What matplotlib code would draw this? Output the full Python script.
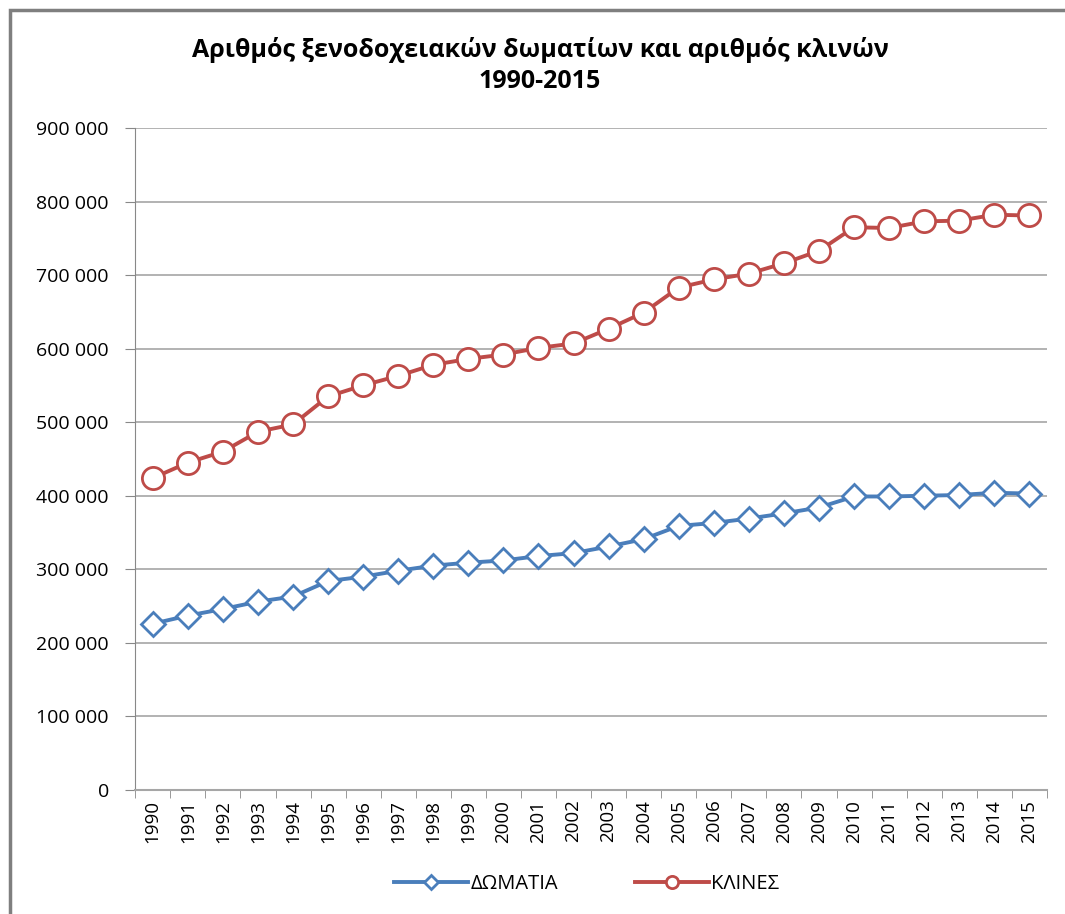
import matplotlib
matplotlib.use("Agg")
import matplotlib.pyplot as plt
from matplotlib.patches import Rectangle
import numpy as np

plt.rcParams['font.family'] = ['Open Sans', 'DejaVu Sans']

years = [str(y) for y in range(1990, 2016)]
rooms = [226000, 237000, 246000, 256000, 263000, 284000, 290000, 298000, 305000, 309000,
         312000, 318000, 322000, 331000, 341000, 359000, 363000, 369000, 376000, 384000,
         399000, 399000, 400000, 401000, 404000, 403000]
beds = [424000, 445000, 460000, 487000, 497000, 535000, 550000, 563000, 578000, 586000,
        592000, 601000, 607000, 627000, 649000, 683000, 694000, 702000, 716000, 733000,
        765000, 764000, 773000, 774000, 782000, 781000]
yticks = [0, 100000, 200000, 300000, 400000, 500000, 600000, 700000, 800000, 900000]
title = "Αριθμός ξενοδοχειακών δωματίων και αριθμός κλινών\n1990-2015"
labels = ["ΔΩΜΑΤΙΑ", "ΚΛΙΝΕΣ"]

blue = "#4A7EBB"
red = "#BE4B48"

fig = plt.figure(figsize=(10.65, 9.14), dpi=100)
ax = fig.add_axes([0.127, 0.1357, 0.856, 0.7243])

x = np.arange(len(years))
ax.plot(x, rooms, color=blue, lw=2.8, marker='D', markersize=12.5,
        markerfacecolor='white', markeredgecolor=blue, markeredgewidth=2, label=labels[0], zorder=3)
ax.plot(x, beds, color=red, lw=2.8, marker='o', markersize=16,
        markerfacecolor='white', markeredgecolor=red, markeredgewidth=2, label=labels[1], zorder=3)

ax.set_xlim(-0.5, len(years) - 0.5)
ax.set_ylim(0, 900000)
ax.set_yticks(yticks)
ax.set_yticklabels(["0" if v == 0 else f"{v:,}".replace(",", " ") for v in yticks], fontsize=14)
ax.set_xticks(x)
ax.set_xticklabels(years, rotation=90, fontsize=13.5)
ax.tick_params(axis='x', length=0, pad=7)
ax.set_xticks(np.arange(-0.5, len(years), 1), minor=True)
ax.tick_params(axis='x', which='minor', length=6, color='#888888')
ax.tick_params(axis='y', length=7, color='#888888', pad=12)
ax.grid(axis='y', color='#A6A6A6', lw=1.2)
ax.set_axisbelow(True)
for s in ['top', 'right']:
    ax.spines[s].set_visible(False)
ax.spines['left'].set_color('#888888')
ax.spines['bottom'].set_color('#A6A6A6')
ax.spines['bottom'].set_linewidth(1.5)

fig.text(0.507, 0.928, title, ha='center', va='center', fontsize=18, fontweight='bold',
         linespacing=1.3)

ax.legend(loc='upper center', bbox_to_anchor=(0.495, -0.1), ncol=2, frameon=False,
          fontsize=14.5, markerscale=0.55, handlelength=3.7, handletextpad=0.1,
          columnspacing=3.8)

fig.patches.append(Rectangle((0.009, -0.02), 1.2, 1.009, transform=fig.transFigure,
                             fill=False, edgecolor='#7F7F7F', lw=2.5))

fig.savefig("out.png", dpi=100)
